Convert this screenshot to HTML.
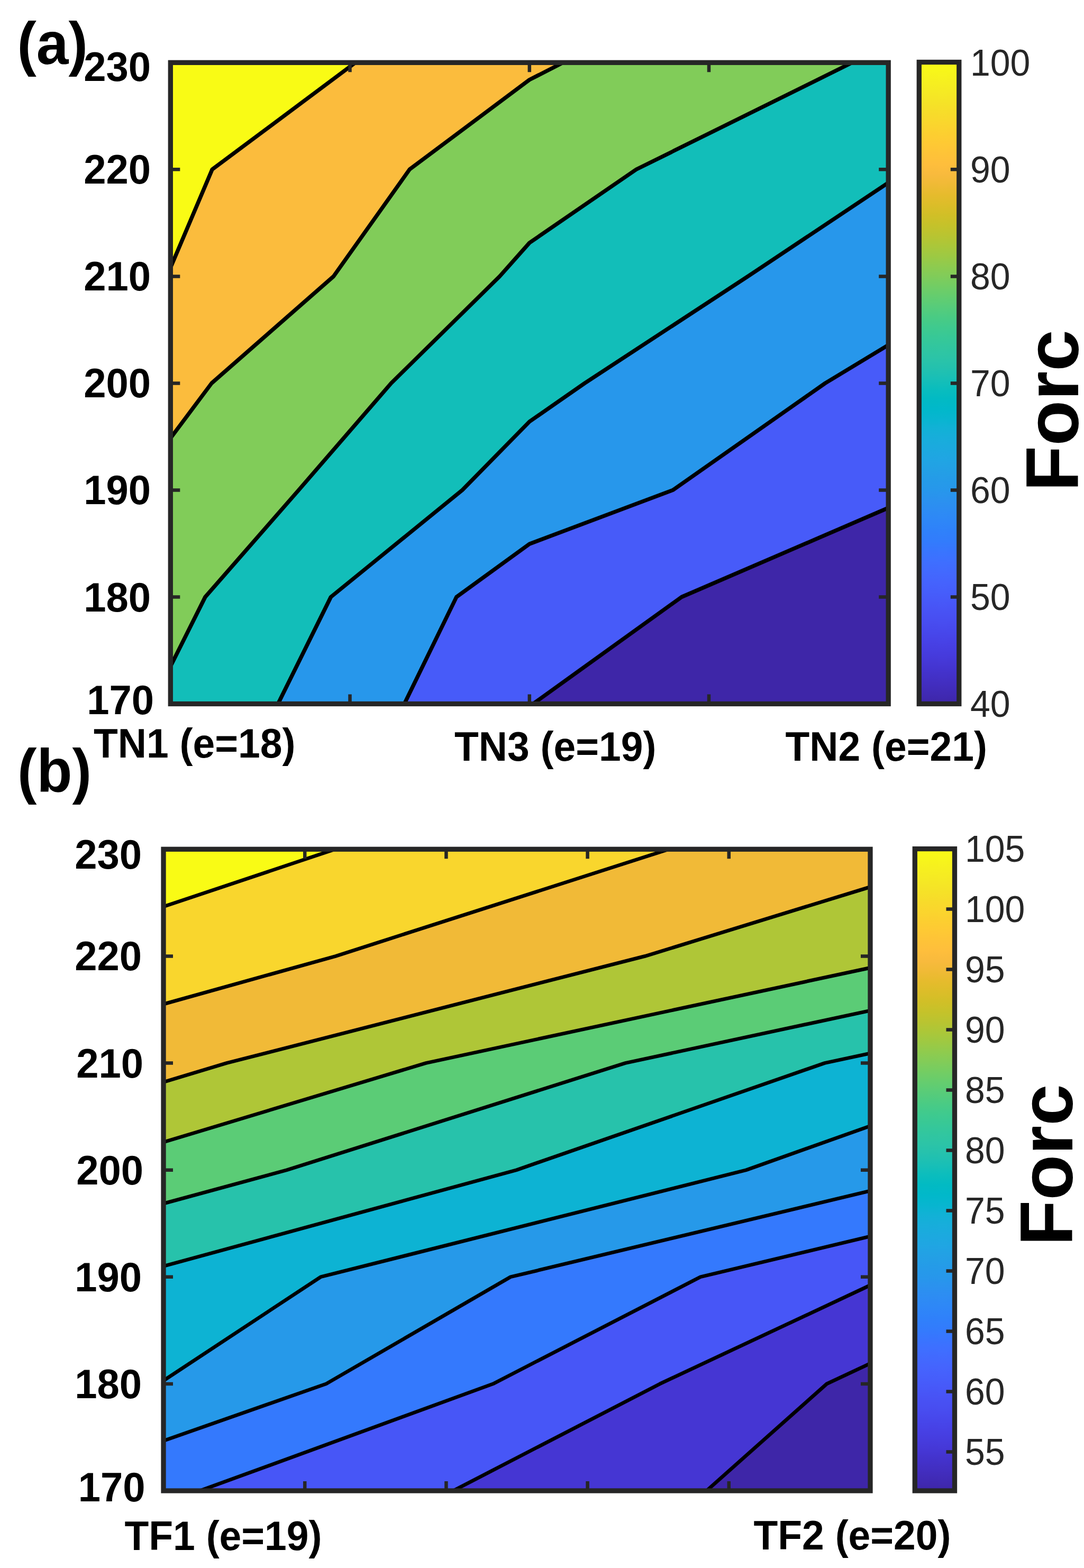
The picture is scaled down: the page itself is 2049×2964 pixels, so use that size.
<!DOCTYPE html>
<html lang="en"><head><meta charset="utf-8"><title>Force contour maps</title>
<style>html,body{margin:0;padding:0;background:#fff}body{width:2049px;height:2964px;overflow:hidden}svg{display:block}text{font-family:"Liberation Sans",Arial,Helvetica,sans-serif}.b{font-weight:700;fill:#000}.c{font-weight:400;fill:#262626}</style>
</head><body>
<svg width="2049" height="2964" viewBox="0 0 2049 2964">
<rect x="0" y="0" width="2049" height="2964" fill="#ffffff"/>
<defs>
<clipPath id="clip0"><rect x="322.3" y="118.3" width="1356.9" height="1212.2"/></clipPath>
<linearGradient id="grad0" x1="0" y1="1" x2="0" y2="0"><stop offset="0%" stop-color="#3e26a8"/><stop offset="1.6%" stop-color="#402ab4"/><stop offset="3.2%" stop-color="#422ec0"/><stop offset="4.8%" stop-color="#4332cb"/><stop offset="6.3%" stop-color="#4537d5"/><stop offset="7.9%" stop-color="#463cde"/><stop offset="9.5%" stop-color="#4741e5"/><stop offset="11.1%" stop-color="#4747eb"/><stop offset="12.7%" stop-color="#484df0"/><stop offset="14.3%" stop-color="#4852f4"/><stop offset="15.9%" stop-color="#4758f8"/><stop offset="17.5%" stop-color="#465efb"/><stop offset="19%" stop-color="#4563fd"/><stop offset="20.6%" stop-color="#4269fe"/><stop offset="22.2%" stop-color="#3e6fff"/><stop offset="23.8%" stop-color="#3875fe"/><stop offset="25.4%" stop-color="#327cfc"/><stop offset="27%" stop-color="#2f81fa"/><stop offset="28.6%" stop-color="#2e87f7"/><stop offset="30.2%" stop-color="#2d8cf3"/><stop offset="31.7%" stop-color="#2b91ef"/><stop offset="33.3%" stop-color="#2797eb"/><stop offset="34.9%" stop-color="#259be8"/><stop offset="36.5%" stop-color="#23a0e5"/><stop offset="38.1%" stop-color="#20a5e3"/><stop offset="39.7%" stop-color="#1ca9df"/><stop offset="41.3%" stop-color="#18addb"/><stop offset="42.9%" stop-color="#12b1d6"/><stop offset="44.4%" stop-color="#08b5d0"/><stop offset="46%" stop-color="#01b8ca"/><stop offset="47.6%" stop-color="#02bac3"/><stop offset="49.2%" stop-color="#0bbdbd"/><stop offset="50.8%" stop-color="#19bfb6"/><stop offset="52.4%" stop-color="#24c1ae"/><stop offset="54%" stop-color="#2cc4a7"/><stop offset="55.6%" stop-color="#31c69f"/><stop offset="57.1%" stop-color="#37c897"/><stop offset="58.7%" stop-color="#3fca8e"/><stop offset="60.3%" stop-color="#4acb84"/><stop offset="61.9%" stop-color="#57cc7a"/><stop offset="63.5%" stop-color="#64cd6f"/><stop offset="65.1%" stop-color="#72cd64"/><stop offset="66.7%" stop-color="#81cc59"/><stop offset="68.3%" stop-color="#8fcb4e"/><stop offset="69.8%" stop-color="#9dc943"/><stop offset="71.4%" stop-color="#abc739"/><stop offset="73%" stop-color="#b9c431"/><stop offset="74.6%" stop-color="#c5c22a"/><stop offset="76.2%" stop-color="#d1bf27"/><stop offset="77.8%" stop-color="#dcbd29"/><stop offset="79.4%" stop-color="#e6bb2d"/><stop offset="81%" stop-color="#f0ba36"/><stop offset="82.5%" stop-color="#f8ba3d"/><stop offset="84.1%" stop-color="#febe3c"/><stop offset="85.7%" stop-color="#fec338"/><stop offset="87.3%" stop-color="#fec934"/><stop offset="88.9%" stop-color="#fccf30"/><stop offset="90.5%" stop-color="#fad62d"/><stop offset="92.1%" stop-color="#f7dc2a"/><stop offset="93.7%" stop-color="#f5e327"/><stop offset="95.2%" stop-color="#f5e924"/><stop offset="96.8%" stop-color="#f6ef20"/><stop offset="98.4%" stop-color="#f7f51b"/><stop offset="100%" stop-color="#f9fb15"/></linearGradient>
<clipPath id="clip1"><rect x="309" y="1605.3" width="1336" height="1212.7"/></clipPath>
<linearGradient id="grad1" x1="0" y1="1" x2="0" y2="0"><stop offset="0%" stop-color="#3e26a8"/><stop offset="1.6%" stop-color="#402ab4"/><stop offset="3.2%" stop-color="#422ec0"/><stop offset="4.8%" stop-color="#4332cb"/><stop offset="6.3%" stop-color="#4537d5"/><stop offset="7.9%" stop-color="#463cde"/><stop offset="9.5%" stop-color="#4741e5"/><stop offset="11.1%" stop-color="#4747eb"/><stop offset="12.7%" stop-color="#484df0"/><stop offset="14.3%" stop-color="#4852f4"/><stop offset="15.9%" stop-color="#4758f8"/><stop offset="17.5%" stop-color="#465efb"/><stop offset="19%" stop-color="#4563fd"/><stop offset="20.6%" stop-color="#4269fe"/><stop offset="22.2%" stop-color="#3e6fff"/><stop offset="23.8%" stop-color="#3875fe"/><stop offset="25.4%" stop-color="#327cfc"/><stop offset="27%" stop-color="#2f81fa"/><stop offset="28.6%" stop-color="#2e87f7"/><stop offset="30.2%" stop-color="#2d8cf3"/><stop offset="31.7%" stop-color="#2b91ef"/><stop offset="33.3%" stop-color="#2797eb"/><stop offset="34.9%" stop-color="#259be8"/><stop offset="36.5%" stop-color="#23a0e5"/><stop offset="38.1%" stop-color="#20a5e3"/><stop offset="39.7%" stop-color="#1ca9df"/><stop offset="41.3%" stop-color="#18addb"/><stop offset="42.9%" stop-color="#12b1d6"/><stop offset="44.4%" stop-color="#08b5d0"/><stop offset="46%" stop-color="#01b8ca"/><stop offset="47.6%" stop-color="#02bac3"/><stop offset="49.2%" stop-color="#0bbdbd"/><stop offset="50.8%" stop-color="#19bfb6"/><stop offset="52.4%" stop-color="#24c1ae"/><stop offset="54%" stop-color="#2cc4a7"/><stop offset="55.6%" stop-color="#31c69f"/><stop offset="57.1%" stop-color="#37c897"/><stop offset="58.7%" stop-color="#3fca8e"/><stop offset="60.3%" stop-color="#4acb84"/><stop offset="61.9%" stop-color="#57cc7a"/><stop offset="63.5%" stop-color="#64cd6f"/><stop offset="65.1%" stop-color="#72cd64"/><stop offset="66.7%" stop-color="#81cc59"/><stop offset="68.3%" stop-color="#8fcb4e"/><stop offset="69.8%" stop-color="#9dc943"/><stop offset="71.4%" stop-color="#abc739"/><stop offset="73%" stop-color="#b9c431"/><stop offset="74.6%" stop-color="#c5c22a"/><stop offset="76.2%" stop-color="#d1bf27"/><stop offset="77.8%" stop-color="#dcbd29"/><stop offset="79.4%" stop-color="#e6bb2d"/><stop offset="81%" stop-color="#f0ba36"/><stop offset="82.5%" stop-color="#f8ba3d"/><stop offset="84.1%" stop-color="#febe3c"/><stop offset="85.7%" stop-color="#fec338"/><stop offset="87.3%" stop-color="#fec934"/><stop offset="88.9%" stop-color="#fccf30"/><stop offset="90.5%" stop-color="#fad62d"/><stop offset="92.1%" stop-color="#f7dc2a"/><stop offset="93.7%" stop-color="#f5e327"/><stop offset="95.2%" stop-color="#f5e924"/><stop offset="96.8%" stop-color="#f6ef20"/><stop offset="98.4%" stop-color="#f7f51b"/><stop offset="100%" stop-color="#f9fb15"/></linearGradient>
</defs>
<g id="plot-a">
<g clip-path="url(#clip0)">
<rect x="322.3" y="118.3" width="1356.9" height="1212.2" fill="#3e26a8"/>
<polygon points="1007.6,1330.5 1288.4,1128.5 1679.2,960 1679.2,118.3 322.3,118.3 322.3,1330.5" fill="#475bf9"/>
<polygon points="764.3,1330.5 862.8,1128.5 1000.8,1028.2 1271.8,926.4 1559.8,724.4 1679.2,652.2 1679.2,118.3 322.3,118.3 322.3,1330.5" fill="#2797eb"/>
<polygon points="525.5,1330.5 625.4,1128.5 873.9,926.4 1000.8,797 1105.2,724.4 1413.7,522.4 1679.2,345.4 1679.2,118.3 322.3,118.3 322.3,1330.5" fill="#12beb9"/>
<polygon points="322.3,1259.6 387.9,1128.5 564.6,926.4 739.4,724.4 944.5,522.4 1000.8,459 1202.7,320.3 1610.9,118.3 322.3,118.3" fill="#81cc59"/>
<polygon points="322.3,828.2 400,724.4 630.5,522.4 774.1,320.3 1000.8,150.8 1064.4,118.3 322.3,118.3" fill="#fbbc3d"/>
<polygon points="322.3,506.1 401.1,320.3 671.8,118.3 322.3,118.3" fill="#f9fb15"/>
<polyline points="997.9,1337.5 1007.6,1330.5 1288.4,1128.5 1679.2,960 1690.2,955.2" fill="none" stroke="#000" stroke-width="7.4" stroke-linejoin="round"/>
<polyline points="759,1341.3 764.3,1330.5 862.8,1128.5 1000.8,1028.2 1271.8,926.4 1559.8,724.4 1679.2,652.2 1689.5,646" fill="none" stroke="#000" stroke-width="7.4" stroke-linejoin="round"/>
<polyline points="520.2,1341.3 525.5,1330.5 625.4,1128.5 873.9,926.4 1000.8,797 1105.2,724.4 1413.7,522.4 1679.2,345.4 1689.2,338.7" fill="none" stroke="#000" stroke-width="7.4" stroke-linejoin="round"/>
<polyline points="316.9,1270.3 322.3,1259.6 387.9,1128.5 564.6,926.4 739.4,724.4 944.5,522.4 1000.8,459 1202.7,320.3 1610.9,118.3 1621.7,113" fill="none" stroke="#000" stroke-width="7.4" stroke-linejoin="round"/>
<polyline points="315.1,837.8 322.3,828.2 400,724.4 630.5,522.4 774.1,320.3 1000.8,150.8 1064.4,118.3 1075.1,112.8" fill="none" stroke="#000" stroke-width="7.4" stroke-linejoin="round"/>
<polyline points="317.6,517.1 322.3,506.1 401.1,320.3 671.8,118.3 681.4,111.1" fill="none" stroke="#000" stroke-width="7.4" stroke-linejoin="round"/>
</g>
<path d="M322.3 320.3h18M1679.2 320.3h-18M322.3 522.4h18M1679.2 522.4h-18M322.3 724.4h18M1679.2 724.4h-18M322.3 926.4h18M1679.2 926.4h-18M322.3 1128.5h18M1679.2 1128.5h-18M661.5 118.3v18M661.5 1330.5v-18M1000.8 118.3v18M1000.8 1330.5v-18M1340 118.3v18M1340 1330.5v-18" stroke="#262626" stroke-width="6.5" fill="none"/>
<rect x="322.3" y="118.3" width="1356.9" height="1212.2" fill="none" stroke="#262626" stroke-width="9.3"/>
<rect x="1737.3" y="117.5" width="75.5" height="1213" fill="url(#grad0)" stroke="#262626" stroke-width="9.3"/>
<path d="M1812.8 320.3h-16M1812.8 522.4h-16M1812.8 724.4h-16M1812.8 926.4h-16M1812.8 1128.5h-16" stroke="#262626" stroke-width="6.5" fill="none"/>
<text class="c" font-size="68" transform="translate(1834 143) scale(1 1.04)">100</text>
<text class="c" font-size="68" transform="translate(1834 345) scale(1 1.04)">90</text>
<text class="c" font-size="68" transform="translate(1834 547.1) scale(1 1.04)">80</text>
<text class="c" font-size="68" transform="translate(1834 749.1) scale(1 1.04)">70</text>
<text class="c" font-size="68" transform="translate(1834 951.1) scale(1 1.04)">60</text>
<text class="c" font-size="68" transform="translate(1834 1153.2) scale(1 1.04)">50</text>
<text class="c" font-size="68" transform="translate(1834 1355.2) scale(1 1.04)">40</text>
<text class="b" font-size="76" text-anchor="end" transform="translate(285 152.5) scale(1 1.035)">230</text>
<text class="b" font-size="76" text-anchor="end" transform="translate(285 347.3) scale(1 1.035)">220</text>
<text class="b" font-size="76" text-anchor="end" transform="translate(285 549.4) scale(1 1.035)">210</text>
<text class="b" font-size="76" text-anchor="end" transform="translate(285 751.4) scale(1 1.035)">200</text>
<text class="b" font-size="76" text-anchor="end" transform="translate(285 953.4) scale(1 1.035)">190</text>
<text class="b" font-size="76" text-anchor="end" transform="translate(285 1155.5) scale(1 1.035)">180</text>
<text class="b" font-size="76" text-anchor="end" transform="translate(291 1350) scale(1 1.035)">170</text>
<text class="b" font-size="75" transform="translate(177 1432.3) scale(1 1.035)">TN1 (e=18)</text>
<text class="b" font-size="75" transform="translate(859 1438.3) scale(1 1.035)">TN3 (e=19)</text>
<text class="b" font-size="75" transform="translate(1484.5 1438.3) scale(1 1.035)">TN2 (e=21)</text>
<text class="b" font-size="113" transform="translate(32.5 121) scale(0.965 1)">(a)</text>
<text class="b" font-size="141" transform="translate(2037.7 929) rotate(-90)">Forc</text>
</g>
<g id="plot-b">
<g clip-path="url(#clip1)">
<rect x="309" y="1605.3" width="1336" height="1212.7" fill="#3e26a8"/>
<polygon points="1335.6,2818 1562.8,2615.9 1645,2577.3 1645,1605.3 309,1605.3 309,2818" fill="#4536d3"/>
<polygon points="856.7,2818 1247.3,2615.9 1645,2429.4 1645,1605.3 309,1605.3 309,2818" fill="#4756f7"/>
<polygon points="377.8,2818 931.9,2615.9 1324.1,2413.8 1645,2337 1645,1605.3 309,1605.3 309,2818" fill="#3479fd"/>
<polygon points="309,2723.5 616.5,2615.9 965.1,2413.8 1645,2251.1 1645,1605.3 309,1605.3" fill="#2699e9"/>
<polygon points="309,2609.9 606.1,2413.8 1410.4,2211.7 1645,2128.4 1645,1605.3 309,1605.3" fill="#0db3d3"/>
<polygon points="309,2393.4 976.2,2211.7 1558.9,2009.5 1645,1991.1 1645,1605.3 309,1605.3" fill="#27c2ab"/>
<polygon points="309,2275.1 542,2211.7 1182.1,2009.5 1645,1910.2 1645,1605.3 309,1605.3" fill="#5bcc76"/>
<polygon points="309,2159 805.2,2009.5 1645,1829.4 1645,1605.3 309,1605.3" fill="#afc637"/>
<polygon points="309,2045.5 428.4,2009.5 1219.3,1807.4 1645,1676.6 1645,1605.3 309,1605.3" fill="#f1ba37"/>
<polygon points="309,1898.1 634.3,1807.4 1264.4,1605.3 309,1605.3" fill="#f9d62d"/>
<polygon points="309,1713.8 633.5,1605.3 309,1605.3" fill="#f9fb15"/>
<polyline points="1326.6,2826 1335.6,2818 1562.8,2615.9 1645,2577.3 1655.9,2572.2" fill="none" stroke="#000" stroke-width="6.8" stroke-linejoin="round"/>
<polyline points="846,2823.5 856.7,2818 1247.3,2615.9 1645,2429.4 1655.9,2424.3" fill="none" stroke="#000" stroke-width="6.8" stroke-linejoin="round"/>
<polyline points="366.5,2822.1 377.8,2818 931.9,2615.9 1324.1,2413.8 1645,2337 1656.7,2334.2" fill="none" stroke="#000" stroke-width="6.8" stroke-linejoin="round"/>
<polyline points="297.7,2727.5 309,2723.5 616.5,2615.9 965.1,2413.8 1645,2251.1 1656.7,2248.3" fill="none" stroke="#000" stroke-width="6.8" stroke-linejoin="round"/>
<polyline points="299,2616.5 309,2609.9 606.1,2413.8 1410.4,2211.7 1645,2128.4 1656.3,2124.4" fill="none" stroke="#000" stroke-width="6.8" stroke-linejoin="round"/>
<polyline points="297.4,2396.6 309,2393.4 976.2,2211.7 1558.9,2009.5 1645,1991.1 1656.7,1988.6" fill="none" stroke="#000" stroke-width="6.8" stroke-linejoin="round"/>
<polyline points="297.4,2278.3 309,2275.1 542,2211.7 1182.1,2009.5 1645,1910.2 1656.7,1907.7" fill="none" stroke="#000" stroke-width="6.8" stroke-linejoin="round"/>
<polyline points="297.5,2162.5 309,2159 805.2,2009.5 1645,1829.4 1656.7,1826.9" fill="none" stroke="#000" stroke-width="6.8" stroke-linejoin="round"/>
<polyline points="297.5,2049 309,2045.5 428.4,2009.5 1219.3,1807.4 1645,1676.6 1656.5,1673.1" fill="none" stroke="#000" stroke-width="6.8" stroke-linejoin="round"/>
<polyline points="297.4,1901.3 309,1898.1 634.3,1807.4 1264.4,1605.3 1275.8,1601.6" fill="none" stroke="#000" stroke-width="6.8" stroke-linejoin="round"/>
<polyline points="297.6,1717.6 309,1713.8 633.5,1605.3 644.9,1601.5" fill="none" stroke="#000" stroke-width="6.8" stroke-linejoin="round"/>
</g>
<path d="M309 1807.4h18M1645 1807.4h-18M309 2009.5h18M1645 2009.5h-18M309 2211.7h18M1645 2211.7h-18M309 2413.8h18M1645 2413.8h-18M309 2615.9h18M1645 2615.9h-18M576.2 1605.3v18M576.2 2818v-18M843.4 1605.3v18M843.4 2818v-18M1110.6 1605.3v18M1110.6 2818v-18M1377.8 1605.3v18M1377.8 2818v-18" stroke="#262626" stroke-width="6.5" fill="none"/>
<rect x="309" y="1605.3" width="1336" height="1212.7" fill="none" stroke="#262626" stroke-width="9.3"/>
<rect x="1729.3" y="1604.6" width="75.2" height="1213.4" fill="url(#grad1)" stroke="#262626" stroke-width="9.3"/>
<path d="M1804.5 1718.6h-16M1804.5 1832.6h-16M1804.5 1946.5h-16M1804.5 2060.5h-16M1804.5 2174.5h-16M1804.5 2288.5h-16M1804.5 2402.4h-16M1804.5 2516.4h-16M1804.5 2630.4h-16M1804.5 2744.4h-16" stroke="#262626" stroke-width="6.5" fill="none"/>
<text class="c" font-size="68" transform="translate(1824 1629.3) scale(1 1.04)">105</text>
<text class="c" font-size="68" transform="translate(1824 1743.3) scale(1 1.04)">100</text>
<text class="c" font-size="68" transform="translate(1824 1857.3) scale(1 1.04)">95</text>
<text class="c" font-size="68" transform="translate(1824 1971.2) scale(1 1.04)">90</text>
<text class="c" font-size="68" transform="translate(1824 2085.2) scale(1 1.04)">85</text>
<text class="c" font-size="68" transform="translate(1824 2199.2) scale(1 1.04)">80</text>
<text class="c" font-size="68" transform="translate(1824 2313.2) scale(1 1.04)">75</text>
<text class="c" font-size="68" transform="translate(1824 2427.1) scale(1 1.04)">70</text>
<text class="c" font-size="68" transform="translate(1824 2541.1) scale(1 1.04)">65</text>
<text class="c" font-size="68" transform="translate(1824 2655.1) scale(1 1.04)">60</text>
<text class="c" font-size="68" transform="translate(1824 2769.1) scale(1 1.04)">55</text>
<text class="b" font-size="76" text-anchor="end" transform="translate(268 1641.7) scale(1 1.035)">230</text>
<text class="b" font-size="76" text-anchor="end" transform="translate(268 1834.4) scale(1 1.035)">220</text>
<text class="b" font-size="76" text-anchor="end" transform="translate(271 2036.5) scale(1 1.035)">210</text>
<text class="b" font-size="76" text-anchor="end" transform="translate(271 2238.7) scale(1 1.035)">200</text>
<text class="b" font-size="76" text-anchor="end" transform="translate(268 2440.8) scale(1 1.035)">190</text>
<text class="b" font-size="76" text-anchor="end" transform="translate(268 2642.9) scale(1 1.035)">180</text>
<text class="b" font-size="76" text-anchor="end" transform="translate(274.5 2838.3) scale(1 1.035)">170</text>
<text class="b" font-size="75" transform="translate(235.5 2930) scale(1 1.035)">TF1 (e=19)</text>
<text class="b" font-size="75" transform="translate(1424.5 2928.5) scale(1 1.035)">TF2 (e=20)</text>
<text class="b" font-size="113" transform="translate(33 1496.7) scale(0.97 1.02)">(b)</text>
<text class="b" font-size="141" transform="translate(2027.3 2355) rotate(-90)">Forc</text>
</g>
</svg>
</body></html>
